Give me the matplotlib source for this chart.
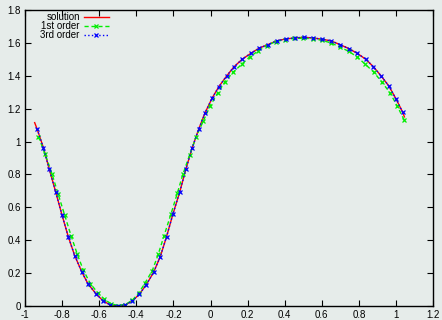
#!/usr/bin/env python

import numpy as np
import matplotlib
matplotlib.use('Agg')
import matplotlib.pyplot as plt
from matplotlib.ticker import MultipleLocator, FuncFormatter

plt.rcParams['font.family'] = ['Liberation Sans', 'DejaVu Sans']

# 3rd order (青) の点
x_3rd = [-0.935, -0.901, -0.869, -0.835, -0.801, -0.767, -0.732, -0.693, -0.659, -0.616,
         -0.580, -0.540, -0.501, -0.461, -0.422, -0.384, -0.346, -0.307, -0.271, -0.237,
         -0.203, -0.166, -0.133, -0.099, -0.064, -0.029, 0.008, 0.045, 0.087, 0.126,
         0.171, 0.218, 0.262, 0.308, 0.356, 0.405, 0.453, 0.503, 0.553, 0.602,
         0.650, 0.699, 0.746, 0.790, 0.836, 0.878, 0.918, 0.961, 0.999, 1.035]
y_3rd = [1.077, 0.963, 0.831, 0.695, 0.555, 0.422, 0.306, 0.205, 0.132, 0.073,
         0.032, 0.006, 0.000, 0.006, 0.030, 0.071, 0.130, 0.205, 0.300, 0.422,
         0.558, 0.693, 0.832, 0.961, 1.075, 1.176, 1.263, 1.334, 1.399, 1.454,
         1.501, 1.537, 1.568, 1.589, 1.612, 1.624, 1.630, 1.634, 1.630, 1.622,
         1.612, 1.589, 1.565, 1.537, 1.501, 1.455, 1.401, 1.338, 1.261, 1.180]

# 1st order (緑) の点
x_1st = [-0.928, -0.891, -0.855, -0.821, -0.786, -0.752, -0.718, -0.686, -0.648, -0.609,
         -0.572, -0.534, -0.496, -0.459, -0.421, -0.388, -0.352, -0.314, -0.282, -0.251,
         -0.213, -0.179, -0.149, -0.113, -0.077, -0.039, -0.002, 0.038, 0.078, 0.122,
         0.168, 0.212, 0.257, 0.302, 0.351, 0.401, 0.449, 0.499, 0.550, 0.599,
         0.649, 0.697, 0.744, 0.790, 0.834, 0.880, 0.924, 0.967, 1.006, 1.044]
y_1st = [1.030, 0.923, 0.805, 0.679, 0.552, 0.428, 0.314, 0.219, 0.136, 0.082,
         0.040, 0.012, 0.003, 0.009, 0.036, 0.077, 0.142, 0.215, 0.314, 0.426,
         0.560, 0.686, 0.801, 0.918, 1.030, 1.125, 1.217, 1.294, 1.364, 1.422,
         1.470, 1.516, 1.551, 1.583, 1.608, 1.620, 1.628, 1.628, 1.626, 1.616,
         1.600, 1.575, 1.549, 1.515, 1.470, 1.422, 1.361, 1.297, 1.217, 1.131]

# 厳密解 (赤)
x_sol = [-0.948] + x_3rd + [1.045]
y_sol = [1.115] + y_3rd + [1.150]

fig = plt.figure(figsize=(4.42, 3.2), dpi=100)
fig.patch.set_facecolor('#e6ecea')
ax = fig.add_axes([0.0566, 0.04375, 0.9234, 0.925])
ax.set_facecolor('#e6ecea')

ax.plot(x_sol, y_sol, '-', color='#ff0000', lw=1.0, label='solution')
ax.plot(x_1st, y_1st, '--', color='#00ee00', lw=1.0, marker='x', ms=3.5, mew=0.9,
        dashes=(3, 2), label='1st order')
ax.plot(x_3rd, y_3rd, ':', color='#0000ff', lw=1.0, marker='x', ms=3.5, mew=0.9,
        label='3rd order')

# 軸の範囲
ax.set_xlim(-1.0, 1.2)
ax.set_ylim(0.0, 1.8)
ax.xaxis.set_major_locator(MultipleLocator(0.2))
ax.yaxis.set_major_locator(MultipleLocator(0.2))
fmt = FuncFormatter(lambda v, p: '%g' % round(v, 6))
ax.xaxis.set_major_formatter(fmt)
ax.yaxis.set_major_formatter(fmt)
ax.tick_params(direction='in', length=4, width=0.8, top=True, right=True,
               labelsize=7, pad=3)
for s in ax.spines.values():
    s.set_linewidth(1.0)

# 凡例 (gnuplot風: テキスト右寄せ)
leg = ax.legend(loc='upper left', markerfirst=False, frameon=False, fontsize=7,
                handlelength=2.6, handletextpad=0.4, labelspacing=-0.1,
                bbox_to_anchor=(0.028, 1.005), borderaxespad=0.0)

plt.savefig('out.png', dpi=100, facecolor=fig.get_facecolor())
